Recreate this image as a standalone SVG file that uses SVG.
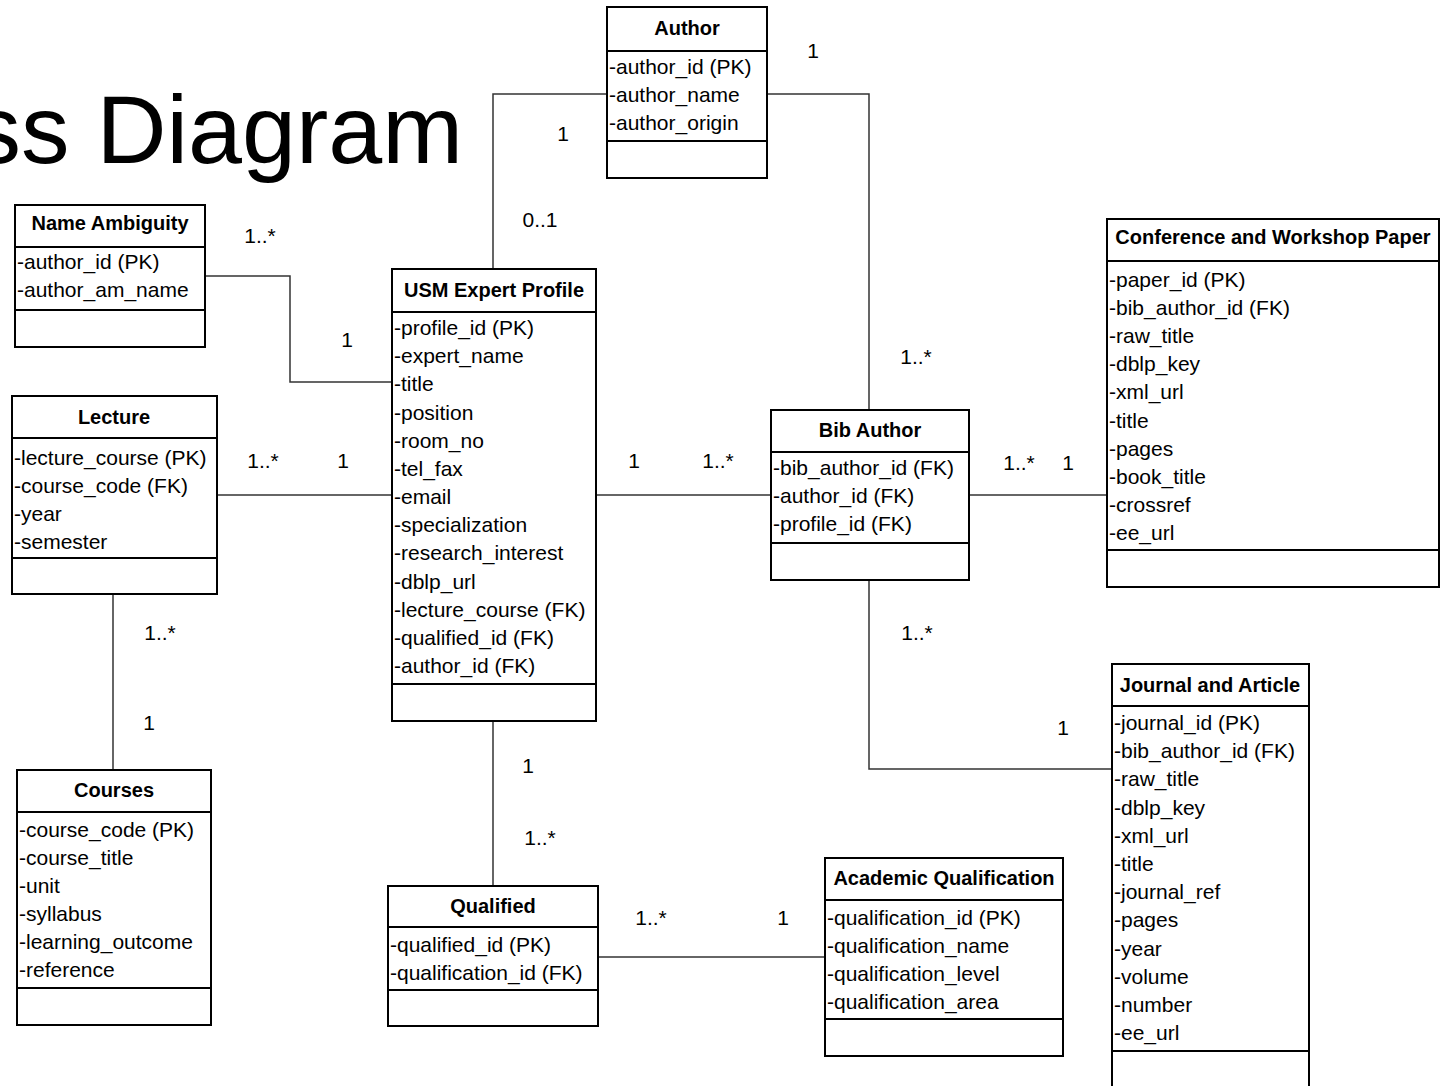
<svg xmlns="http://www.w3.org/2000/svg" width="1440" height="1086" viewBox="0 0 1440 1086">
<style>
.box{fill:#fff;stroke:#000;stroke-width:2}
.ln{stroke:#000;stroke-width:2}
.hd{font-family:"Liberation Sans",Arial,sans-serif;font-weight:bold;font-size:20px;fill:#000;text-anchor:middle}
.at{font-family:"Liberation Sans",Arial,sans-serif;font-size:21px;fill:#000}
.lb{font-family:"Liberation Sans",Arial,sans-serif;font-size:21px;fill:#000;text-anchor:middle}
.cn{fill:none;stroke:#333;stroke-width:1.5}
.ttl{font-family:"Liberation Sans",Arial,sans-serif;font-size:97px;fill:#000}
</style>
<rect width="1440" height="1086" fill="#fff"/>
<text class="ttl" x="463" y="163" text-anchor="end">ss Diagram</text>

<g id="connectors">
<path class="cn" d="M607,94 H493 V269"/>
<path class="cn" d="M767,94 H869 V410"/>
<path class="cn" d="M205,276 H290 V382 H392"/>
<path class="cn" d="M217,495 H392"/>
<path class="cn" d="M596,495 H771"/>
<path class="cn" d="M969,495 H1107"/>
<path class="cn" d="M869,580 V769 H1112"/>
<path class="cn" d="M493,721 V886"/>
<path class="cn" d="M113,594 V770"/>
<path class="cn" d="M598,957 H825"/>
</g>

<g id="labels">
<text class="lb" x="813" y="58">1</text>
<text class="lb" x="563" y="141">1</text>
<text class="lb" x="540" y="227">0..1</text>
<text class="lb" x="916" y="364">1..*</text>
<text class="lb" x="260" y="243">1..*</text>
<text class="lb" x="347" y="347">1</text>
<text class="lb" x="263" y="468">1..*</text>
<text class="lb" x="343" y="468">1</text>
<text class="lb" x="634" y="468">1</text>
<text class="lb" x="718" y="468">1..*</text>
<text class="lb" x="1019" y="470">1..*</text>
<text class="lb" x="1068" y="470">1</text>
<text class="lb" x="160" y="640">1..*</text>
<text class="lb" x="149" y="730">1</text>
<text class="lb" x="917" y="640">1..*</text>
<text class="lb" x="1063" y="735">1</text>
<text class="lb" x="528" y="773">1</text>
<text class="lb" x="540" y="845">1..*</text>
<text class="lb" x="651" y="925">1..*</text>
<text class="lb" x="783" y="925">1</text>
</g>

<g id="author">
<rect class="box" x="607" y="7" width="160" height="171"/>
<line class="ln" x1="607" y1="51" x2="767" y2="51"/>
<line class="ln" x1="607" y1="141" x2="767" y2="141"/>
<text class="hd" x="687" y="35">Author</text>
<text class="at" x="609" y="74">-author_id (PK)</text>
<text class="at" x="609" y="102">-author_name</text>
<text class="at" x="609" y="130">-author_origin</text>
</g>

<g id="name-ambiguity">
<rect class="box" x="15" y="205" width="190" height="142"/>
<line class="ln" x1="15" y1="247" x2="205" y2="247"/>
<line class="ln" x1="15" y1="310" x2="205" y2="310"/>
<text class="hd" x="110" y="230">Name Ambiguity</text>
<text class="at" x="17" y="269">-author_id (PK)</text>
<text class="at" x="17" y="297">-author_am_name</text>
</g>

<g id="lecture">
<rect class="box" x="12" y="396" width="205" height="198"/>
<line class="ln" x1="12" y1="438" x2="217" y2="438"/>
<line class="ln" x1="12" y1="558" x2="217" y2="558"/>
<text class="hd" x="114" y="424">Lecture</text>
<text class="at" x="14" y="465">-lecture_course (PK)</text>
<text class="at" x="14" y="493">-course_code (FK)</text>
<text class="at" x="14" y="521">-year</text>
<text class="at" x="14" y="549">-semester</text>
</g>

<g id="usm-expert-profile">
<rect class="box" x="392" y="269" width="204" height="452"/>
<line class="ln" x1="392" y1="312" x2="596" y2="312"/>
<line class="ln" x1="392" y1="684" x2="596" y2="684"/>
<text class="hd" x="494" y="297">USM Expert Profile</text>
<text class="at" x="394" y="335">-profile_id (PK)</text>
<text class="at" x="394" y="363">-expert_name</text>
<text class="at" x="394" y="391">-title</text>
<text class="at" x="394" y="420">-position</text>
<text class="at" x="394" y="448">-room_no</text>
<text class="at" x="394" y="476">-tel_fax</text>
<text class="at" x="394" y="504">-email</text>
<text class="at" x="394" y="532">-specialization</text>
<text class="at" x="394" y="560">-research_interest</text>
<text class="at" x="394" y="589">-dblp_url</text>
<text class="at" x="394" y="617">-lecture_course (FK)</text>
<text class="at" x="394" y="645">-qualified_id (FK)</text>
<text class="at" x="394" y="673">-author_id (FK)</text>
</g>

<g id="bib-author">
<rect class="box" x="771" y="410" width="198" height="170"/>
<line class="ln" x1="771" y1="452" x2="969" y2="452"/>
<line class="ln" x1="771" y1="543" x2="969" y2="543"/>
<text class="hd" x="870" y="437">Bib Author</text>
<text class="at" x="773" y="475">-bib_author_id (FK)</text>
<text class="at" x="773" y="503">-author_id (FK)</text>
<text class="at" x="773" y="531">-profile_id (FK)</text>
</g>

<g id="conference-paper">
<rect class="box" x="1107" y="219" width="332" height="368"/>
<line class="ln" x1="1107" y1="261" x2="1439" y2="261"/>
<line class="ln" x1="1107" y1="550" x2="1439" y2="550"/>
<text class="hd" x="1273" y="244">Conference and Workshop Paper</text>
<text class="at" x="1109" y="287">-paper_id (PK)</text>
<text class="at" x="1109" y="315">-bib_author_id (FK)</text>
<text class="at" x="1109" y="343">-raw_title</text>
<text class="at" x="1109" y="371">-dblp_key</text>
<text class="at" x="1109" y="399">-xml_url</text>
<text class="at" x="1109" y="428">-title</text>
<text class="at" x="1109" y="456">-pages</text>
<text class="at" x="1109" y="484">-book_title</text>
<text class="at" x="1109" y="512">-crossref</text>
<text class="at" x="1109" y="540">-ee_url</text>
</g>

<g id="journal-article">
<rect class="box" x="1112" y="664" width="197" height="440"/>
<line class="ln" x1="1112" y1="706" x2="1309" y2="706"/>
<line class="ln" x1="1112" y1="1051" x2="1309" y2="1051"/>
<text class="hd" x="1210" y="692">Journal and Article</text>
<text class="at" x="1114" y="730">-journal_id (PK)</text>
<text class="at" x="1114" y="758">-bib_author_id (FK)</text>
<text class="at" x="1114" y="786">-raw_title</text>
<text class="at" x="1114" y="815">-dblp_key</text>
<text class="at" x="1114" y="843">-xml_url</text>
<text class="at" x="1114" y="871">-title</text>
<text class="at" x="1114" y="899">-journal_ref</text>
<text class="at" x="1114" y="927">-pages</text>
<text class="at" x="1114" y="956">-year</text>
<text class="at" x="1114" y="984">-volume</text>
<text class="at" x="1114" y="1012">-number</text>
<text class="at" x="1114" y="1040">-ee_url</text>
</g>

<g id="courses">
<rect class="box" x="17" y="770" width="194" height="255"/>
<line class="ln" x1="17" y1="812" x2="211" y2="812"/>
<line class="ln" x1="17" y1="988" x2="211" y2="988"/>
<text class="hd" x="114" y="797">Courses</text>
<text class="at" x="19" y="837">-course_code (PK)</text>
<text class="at" x="19" y="865">-course_title</text>
<text class="at" x="19" y="893">-unit</text>
<text class="at" x="19" y="921">-syllabus</text>
<text class="at" x="19" y="949">-learning_outcome</text>
<text class="at" x="19" y="977">-reference</text>
</g>

<g id="qualified">
<rect class="box" x="388" y="886" width="210" height="140"/>
<line class="ln" x1="388" y1="927" x2="598" y2="927"/>
<line class="ln" x1="388" y1="990" x2="598" y2="990"/>
<text class="hd" x="493" y="913">Qualified</text>
<text class="at" x="390" y="952">-qualified_id (PK)</text>
<text class="at" x="390" y="980">-qualification_id (FK)</text>
</g>

<g id="academic-qualification">
<rect class="box" x="825" y="858" width="238" height="198"/>
<line class="ln" x1="825" y1="900" x2="1063" y2="900"/>
<line class="ln" x1="825" y1="1019" x2="1063" y2="1019"/>
<text class="hd" x="944" y="885">Academic Qualification</text>
<text class="at" x="827" y="925">-qualification_id (PK)</text>
<text class="at" x="827" y="953">-qualification_name</text>
<text class="at" x="827" y="981">-qualification_level</text>
<text class="at" x="827" y="1009">-qualification_area</text>
</g>
</svg>
